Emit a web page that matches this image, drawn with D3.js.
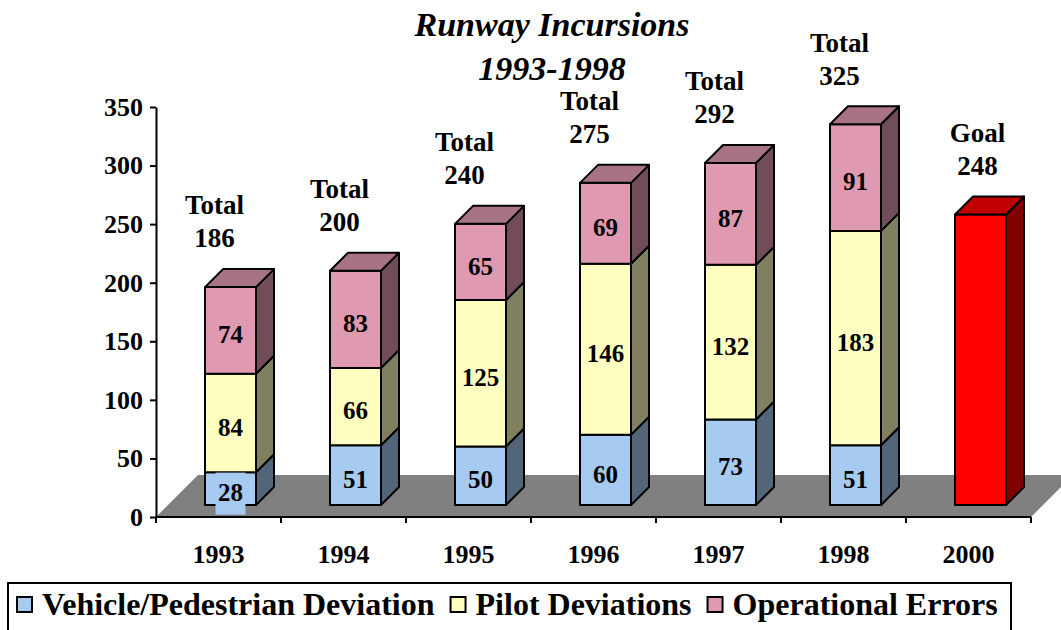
<!DOCTYPE html>
<html>
<head>
<meta charset="utf-8">
<script src="https://cdn.jsdelivr.net/npm/d3@7"></script>
<style>
  body { margin: 0; background: #fff; }
  svg text { font-family: "Liberation Serif", "Times New Roman", serif; font-weight: bold; }
</style>
</head>
<body>
<svg width="1061" height="630"></svg>
<script>
const years = ["1993", "1994", "1995", "1996", "1997", "1998", "2000"];
const stackYears = ["1993", "1994", "1995", "1996", "1997", "1998"];
const vehicle = [28, 51, 50, 60, 73, 51];
const pilot = [84, 66, 125, 146, 132, 183];
const operational = [74, 83, 65, 69, 87, 91];
const totals = [186, 200, 240, 275, 292, 325];
const goalYear = "2000";
const goalValue = 248;
const yTicks = [0, 50, 100, 150, 200, 250, 300, 350];
const seriesNames = ["Vehicle/Pedestrian Deviation", "Pilot Deviations", "Operational Errors"];

const svg = d3.select("svg");
const floorDepth = 42, d0 = 12, d1 = 30; // oblique depth, bar sits between d0 and d1
const barW = 51;

const x = d3.scaleBand().domain(years).range([156, 1031]).padding(0);
const y = d3.scaleLinear().domain([0, 350]).range([517, 107]);

const colors = [
  {front: "#a6caf0", top: "#7d98b4", side: "#536578"},
  {front: "#ffffc0", top: "#bfbf90", side: "#808060"},
  {front: "#df9ab1", top: "#a87484", side: "#704d58"}
];
const goalColor = {front: "#ff0000", top: "#c00000", side: "#800000"};

// project a point on the front plane (px, value) back by depth d
const P = (px, v, d) => [px + d, y(v) - d];
const poly = pts => "M" + pts.map(p => p.join(",")).join("L") + "Z";

// floor
const x0 = x.range()[0], x1 = x.range()[1];
svg.append("path")
  .attr("d", poly([[x0, y(0)], [x1, y(0)], [x1 + floorDepth, y(0) - floorDepth], [x0 + floorDepth, y(0) - floorDepth]]))
  .attr("fill", "#808080");

// stacked data
const table = stackYears.map((yr, i) => ({year: yr, s0: vehicle[i], s1: pilot[i], s2: operational[i]}));
const stacked = d3.stack().keys(["s0", "s1", "s2"])(table);

function drawBox(g, fx, v0, v1, col, withTop) {
  const fr = fx + barW;
  g.append("path").attr("d", poly([P(fr, v0, d0), P(fr, v1, d0), P(fr, v1, d1), P(fr, v0, d1)]))
    .attr("fill", col.side).attr("stroke", "#000").attr("stroke-width", 2).attr("stroke-linejoin", "round");
  g.append("path").attr("d", poly([P(fx, v0, d0), P(fr, v0, d0), P(fr, v1, d0), P(fx, v1, d0)]))
    .attr("fill", col.front).attr("stroke", "#000").attr("stroke-width", 2).attr("stroke-linejoin", "round");
  if (withTop) {
    g.append("path").attr("d", poly([P(fx, v1, d0), P(fr, v1, d0), P(fr, v1, d1), P(fx, v1, d1)]))
      .attr("fill", col.top).attr("stroke", "#000").attr("stroke-width", 2).attr("stroke-linejoin", "round");
  }
}

const bars = svg.append("g").attr("class", "bars");
stackYears.forEach((yr, i) => {
  const g = bars.append("g");
  const fx = x(yr) + (x.bandwidth() - barW) / 2;
  stacked.forEach((layer, k) => {
    const seg = layer[i];
    drawBox(g, fx, seg[0], seg[1], colors[k], k === stacked.length - 1);
  });
  // data labels
  stacked.forEach((layer, k) => {
    const seg = layer[i];
    const p = P(fx + barW / 2, (seg[0] + seg[1]) / 2, d0);
    g.append("rect")
      .attr("x", p[0] - 15).attr("y", p[1] - 16)
      .attr("width", 30).attr("height", 42)
      .attr("fill", colors[k].front);
    g.append("text")
      .attr("x", p[0]).attr("y", p[1] + 4)
      .attr("dy", "0.35em")
      .attr("text-anchor", "middle")
      .attr("font-size", 25)
      .text(seg[1] - seg[0]);
  });
  // total annotation
  const t = P(x(yr) + x.bandwidth() / 2, totals[i] + 42, d0);
  g.append("text").attr("x", t[0] - 16).attr("y", t[1] - 33).attr("dy", "0.35em")
    .attr("text-anchor", "middle").attr("font-size", 27).text("Total");
  g.append("text").attr("x", t[0] - 16).attr("y", t[1]).attr("dy", "0.35em")
    .attr("text-anchor", "middle").attr("font-size", 27).text(totals[i]);
});

// goal bar
const goalG = svg.append("g");
const gfx = x(goalYear) + (x.bandwidth() - barW) / 2;
drawBox(goalG, gfx, 0, goalValue, goalColor, true);
const gt = P(x(goalYear) + x.bandwidth() / 2, goalValue + 42, d0);
goalG.append("text").attr("x", gt[0] - 3).attr("y", gt[1] - 33).attr("dy", "0.35em")
  .attr("text-anchor", "middle").attr("font-size", 27).text("Goal");
goalG.append("text").attr("x", gt[0] - 3).attr("y", gt[1]).attr("dy", "0.35em")
  .attr("text-anchor", "middle").attr("font-size", 27).text(goalValue);

// y axis
const yAxis = svg.append("g")
  .attr("transform", `translate(${x0},0)`)
  .call(d3.axisLeft(y).tickValues(yTicks).tickSize(6).tickSizeOuter(0).tickPadding(7));
yAxis.select(".domain").attr("stroke", "#000").attr("stroke-width", 2);
yAxis.selectAll(".tick line").attr("stroke", "#000").attr("stroke-width", 2);
yAxis.selectAll(".tick text").attr("font-size", 26).attr("fill", "#000")
  .style("font-family", "'Liberation Serif', serif").style("font-weight", "bold");

// x axis: floor front edge, boundary ticks, labels
svg.append("line").attr("x1", x0 - 1).attr("x2", x1).attr("y1", y(0)).attr("y2", y(0))
  .attr("stroke", "#000").attr("stroke-width", 2);
svg.append("g").selectAll("line")
  .data(years.map(d => x(d)).concat([x1]))
  .join("line")
  .attr("x1", d => d).attr("x2", d => d)
  .attr("y1", y(0)).attr("y2", y(0) + 6)
  .attr("stroke", "#000").attr("stroke-width", 2);
const xAxis = svg.append("g")
  .attr("transform", `translate(0,${y(0)})`)
  .call(d3.axisBottom(x).tickSize(0).tickPadding(28));
xAxis.select(".domain").remove();
xAxis.selectAll(".tick text").attr("font-size", 26).attr("fill", "#000")
  .style("font-family", "'Liberation Serif', serif").style("font-weight", "bold");

// title
svg.append("text").attr("x", 552).attr("y", 36).attr("text-anchor", "middle")
  .attr("font-size", 34).attr("font-style", "italic").text("Runway Incursions");
svg.append("text").attr("x", 552).attr("y", 80).attr("text-anchor", "middle")
  .attr("font-size", 34).attr("font-style", "italic").text("1993-1998");

// legend
const legend = svg.append("g");
legend.append("rect").attr("x", 8).attr("y", 583).attr("width", 1003).attr("height", 60)
  .attr("fill", "#fff").attr("stroke", "#000").attr("stroke-width", 2);
let lx = 17;
seriesNames.forEach((name, k) => {
  legend.append("rect").attr("x", lx).attr("y", 597).attr("width", 15).attr("height", 15)
    .attr("fill", colors[k].front).attr("stroke", "#000").attr("stroke-width", 2);
  const t = legend.append("text").attr("x", lx + 25).attr("y", 615)
    .attr("font-size", 32).text(name);
  lx += 25 + t.node().getComputedTextLength() + 16;
});
</script>
</body>
</html>
